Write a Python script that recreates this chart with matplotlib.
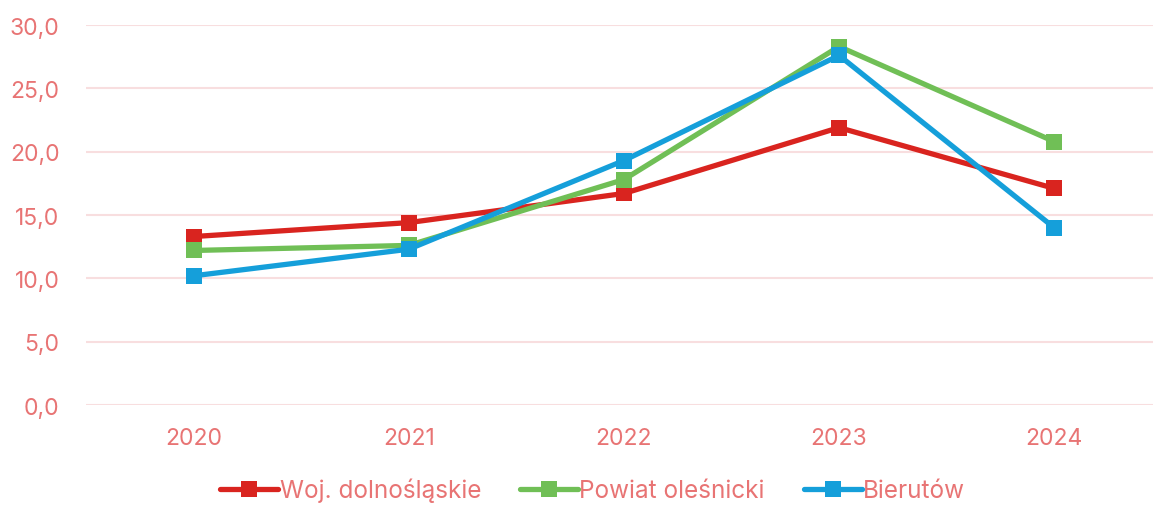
import matplotlib
matplotlib.use("Agg")
import matplotlib.pyplot as plt
from matplotlib.ticker import FuncFormatter

years = ["2020", "2021", "2022", "2023", "2024"]
woj_dolnoslaskie = [13.3, 14.4, 16.7, 21.9, 17.1]
powiat_olesnicki = [12.2, 12.6, 17.8, 28.3, 20.8]
bierutow = [10.2, 12.3, 19.3, 27.6, 14.0]

series_names = ["Woj. dolnośląskie", "Powiat oleśnicki", "Bierutów"]
series_colors = ["#D9241F", "#70BF56", "#159FDA"]
text_color = "#E87474"
grid_color = "#F8DEDF"

plt.rcParams["font.family"] = ["Inter", "DejaVu Sans"]

fig = plt.figure(figsize=(11.53, 5.06), dpi=100)
ax = fig.add_axes([0.0746, 0.1976, 0.933, 0.751])

x = range(len(years))
for vals, name, col in zip([woj_dolnoslaskie, powiat_olesnicki, bierutow], series_names, series_colors):
    ax.plot(x, vals, color=col, lw=3.8, marker="s", markersize=11,
            markeredgewidth=0, label=name, solid_capstyle="round", zorder=3)

ax.set_xlim(-0.5, len(years) - 0.5)
ax.set_ylim(0, 30)
ax.set_yticks([0, 5, 10, 15, 20, 25, 30])
ax.yaxis.set_major_formatter(FuncFormatter(lambda v, p: f"{v:.1f}".replace(".", ",")))
ax.set_xticks(list(x))
ax.set_xticklabels(years)

ax.grid(axis="y", color=grid_color, lw=1.5, zorder=0)
ax.set_axisbelow(True)
for s in ax.spines.values():
    s.set_visible(False)
ax.tick_params(axis="both", length=0, labelsize=16.5, labelcolor=text_color)
ax.tick_params(axis="y", pad=19)
ax.tick_params(axis="x", pad=16)

leg = fig.legend(loc="center", bbox_to_anchor=(0.514, 0.03), ncol=3, frameon=False,
                 fontsize=17.5, handlelength=2.4, handletextpad=0.05, columnspacing=1.6,
                 borderpad=0.1)
for t in leg.get_texts():
    t.set_color(text_color)

fig.savefig("out.png", dpi=100)
